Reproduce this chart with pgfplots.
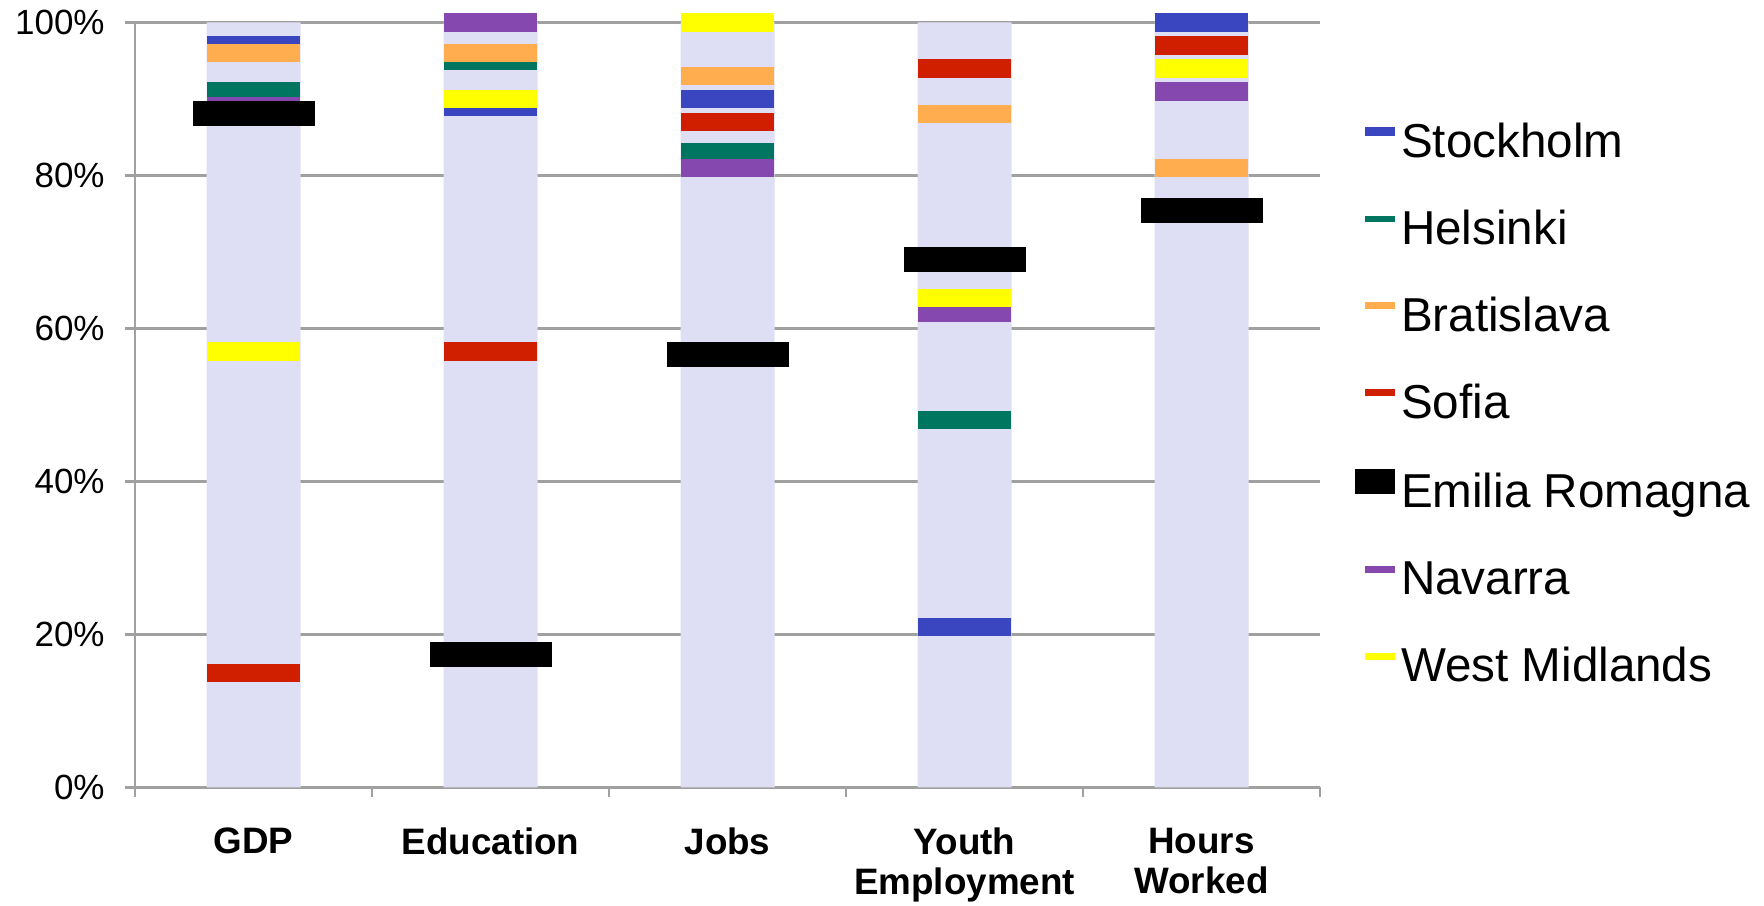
\documentclass[border=0pt]{standalone}
\usepackage{pgfplots}
\pgfplotsset{compat=1.18}
\usepackage{pgfplotstable}
\usepackage{fontspec}
\setmainfont{Liberation Sans}

\definecolor{lav}{RGB}{222,222,245}
\definecolor{axgray}{RGB}{160,160,160}
\definecolor{stock}{RGB}{58,69,192}
\definecolor{hels}{RGB}{0,118,96}
\definecolor{brat}{RGB}{255,173,79}
\definecolor{sofia}{RGB}{207,31,0}
\definecolor{nav}{RGB}{133,72,175}
\definecolor{wm}{RGB}{255,255,0}

% flat horizontal marker, as wide as a column
\pgfdeclareplotmark{region}{%
  \pgfpathrectangle{\pgfqpoint{-11.625pt}{-2.3pt}}{\pgfqpoint{23.25pt}{4.6pt}}%
  \pgfusepathqfill}
% wider and thicker marker for the highlighted region
\pgfdeclareplotmark{regionwide}{%
  \pgfpathrectangle{\pgfqpoint{-15.25pt}{-3.05pt}}{\pgfqpoint{30.5pt}{6.1pt}}%
  \pgfusepathqfill}

% percentile position of each region per indicator (x = indicator index)
\pgfplotstableread{
x stock hels brat sofia emilia nav wm
0 97  91  96 15 88.1 89  57
1 89  95  96 57 17.4 100 90
2 90  83  93 87 56.6 81  100
3 21  48  88 94 69   62  64
4 100 nan 81 97 75.4 91  94
}\scores

\pgfplotstableread{
x full
0 100
1 100
2 100
3 100
4 100
}\range

\begin{document}
\begin{tikzpicture}
\path[use as bounding box] (0,0) rectangle (441pt,226.5pt);
\begin{axis}[
  at={(33.75pt,29.625pt)}, anchor=south west,
  scale only axis, width=296.25pt, height=191.25pt,
  xmin=-0.5, xmax=4.5, ymin=0, ymax=100,
  clip=false,
  axis x line*=bottom, axis y line*=left,
  axis line style={draw=axgray, line width=0.6pt},
  xtick={-0.5,0.5,...,4.5}, xticklabels={},
  extra x ticks={0,1,2,3,4},
  extra x tick labels={GDP,Education,Jobs,{Youth\\Employment},{Hours\\Worked}},
  extra x tick style={tick style={draw=none}},
  ytick={0,20,40,60,80,100},
  yticklabels={0\%,20\%,40\%,60\%,80\%,100\%},
  tick align=outside,
  major tick length=2.5pt,
  tick style={draw=axgray, line width=0.6pt},
  ymajorgrids,
  grid style={draw=axgray, line width=0.6pt},
  x tick label style={font=\bfseries\fontsize{9.2}{10}\selectfont, align=center,
    anchor=north, inner sep=0pt, yshift=-7.45pt},
  y tick label style={font=\fontsize{8.75}{10}\selectfont, anchor=east,
    inner sep=0pt, xshift=-4.9pt},
  legend style={at={(1,1)}, anchor=north west, xshift=8.75pt, yshift=-24.7pt,
    draw=none, fill=none, inner sep=0pt, outer sep=0pt,
    row sep=10.25pt, column sep=1.6pt,
    font=\fontsize{11.9}{14}\selectfont,
    nodes={inner sep=0pt, anchor=base west, text height=9pt, text depth=2.5pt}},
]
% legend entries, in the order of the series
\addlegendimage{legend image code/.code={\fill[stock] (-7.1pt,5.4pt) rectangle (0pt,7.3pt);}}
\addlegendentry{Stockholm}
\addlegendimage{legend image code/.code={\fill[hels] (-7.1pt,5.75pt) rectangle (0pt,6.95pt);}}
\addlegendentry{Helsinki}
\addlegendimage{legend image code/.code={\fill[brat] (-7.1pt,5.65pt) rectangle (0pt,7.05pt);}}
\addlegendentry{Bratislava}
\addlegendimage{legend image code/.code={\fill[sofia] (-7.1pt,5.65pt) rectangle (0pt,7.05pt);}}
\addlegendentry{Sofia}
\addlegendimage{legend image code/.code={\fill[black] (-9.5pt,3.55pt) rectangle (0pt,9.45pt);}}
\addlegendentry{Emilia Romagna}
\addlegendimage{legend image code/.code={\fill[nav] (-7.1pt,5.65pt) rectangle (0pt,7.05pt);}}
\addlegendentry{Navarra}
\addlegendimage{legend image code/.code={\fill[wm] (-7.1pt,5.65pt) rectangle (0pt,7.05pt);}}
\addlegendentry{West Midlands}

% background range of each indicator
\addplot[ybar, bar width=23.5pt, bar shift=0pt, fill=lav, draw=none, forget plot]
  table[x=x, y=full] {\range};

\addplot[only marks, mark=region, color=stock, forget plot] table[x=x, y=stock] {\scores};
\addplot[only marks, mark=region, color=hels,  forget plot] table[x=x, y=hels]  {\scores};
\addplot[only marks, mark=region, color=brat,  forget plot] table[x=x, y=brat]  {\scores};
\addplot[only marks, mark=region, color=sofia, forget plot] table[x=x, y=sofia] {\scores};
\addplot[only marks, mark=region, color=nav,   forget plot] table[x=x, y=nav]   {\scores};
\addplot[only marks, mark=region, color=wm,    forget plot] table[x=x, y=wm]    {\scores};
% highlighted region drawn on top
\addplot[only marks, mark=regionwide, color=black, forget plot] table[x=x, y=emilia] {\scores};
\end{axis}
\end{tikzpicture}
\end{document}
